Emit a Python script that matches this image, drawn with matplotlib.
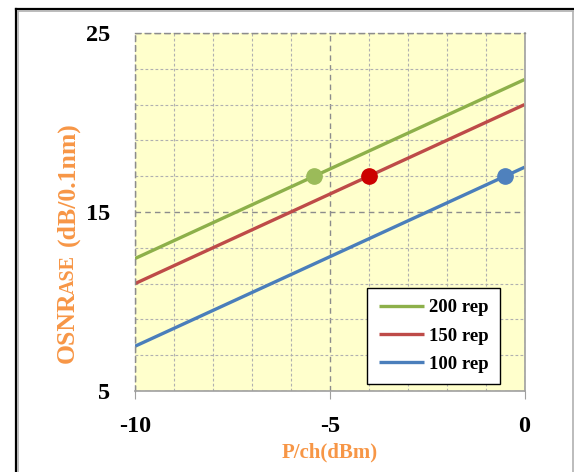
#OSNR vs launch power per channel, three repeater counts

import numpy as np
from matplotlib import pyplot as plt
from matplotlib.lines import Line2D
from matplotlib.font_manager import FontProperties

plt.rcParams['font.family'] = 'Liberation Serif'
plt.rcParams['font.weight'] = 'bold'
plt.rcParams['axes.unicode_minus'] = False

#data
power = [-10, 0]
osnr_200 = [12.4, 22.4]
osnr_150 = [11.0, 21.0]
osnr_100 = [7.5, 17.5]
labels = ['200 rep', '150 rep', '100 rep']
mark_x = [-5.4, -4.0, -0.5]
mark_y = [17, 17, 17]
x_ticks = [-10, -5, 0]
y_ticks = [5, 15, 25]

line_colors = ['#8DB04A', '#BE4B48', '#4A7EBB']
mark_colors = ['#9BBB59', '#CC0000', '#4F81BD']
orange = '#F79646'

W, H = 574, 472
fig = plt.figure(figsize=(W / 100, H / 100), dpi=100)
ax = fig.add_axes([135 / W, 1 - 391 / H, 389.5 / W, 358 / H])
ax.set_facecolor('#FFFFCC')

for ys, c, lab in zip([osnr_200, osnr_150, osnr_100], line_colors, labels):
    ax.plot(power, ys, color=c, lw=2.4, label=lab, solid_capstyle='butt')
for mx, my, c in zip(mark_x, mark_y, mark_colors):
    ax.plot(mx, my, 'o', color=c, ms=11, mec=c, zorder=4)

ax.set_xlim(-10, 0)
ax.set_ylim(5, 25)
ax.set_xticks(x_ticks)
ax.set_yticks(y_ticks)
ax.set_xticks(np.arange(-10, 1, 1), minor=True)
ax.set_yticks(np.arange(5, 26, 2), minor=True)

ax.grid(which='major', color='#8c8c8c', lw=1, ls=(0, (4, 3)))
ax.grid(which='minor', color='#b0b0b0', lw=0.8, ls=(0, (2.5, 2)))
ax.set_axisbelow(True)

for s in ['left', 'top']:
    ax.spines[s].set_color('#8c8c8c')
    ax.spines[s].set_linestyle((0, (4, 3)))
    ax.spines[s].set_linewidth(1)
for s in ['bottom', 'right']:
    ax.spines[s].set_color('#a0a0a0')
    ax.spines[s].set_linewidth(1.2)

ax.tick_params(axis='x', which='major', length=6, color='#a0a0a0',
               labelsize=17.5, pad=12)
ax.tick_params(axis='y', which='major', length=0, labelsize=17.5, pad=18)
ax.tick_params(which='minor', length=0)

ax.set_xlabel('P/ch(dBm)', color=orange, fontsize=15, fontweight='bold',
              labelpad=4)

leg = ax.legend(loc='lower right', bbox_to_anchor=(0.9376, 0.019),
                borderaxespad=0, fancybox=False, framealpha=1,
                edgecolor='black', prop={'size': 13.5, 'weight': 'bold'},
                handlelength=2.4, handletextpad=0.3, labelspacing=0.6,
                borderpad=0.6)
leg.get_frame().set_linewidth(1)

#y label: OSNR + small caps ASE + unit, laid out along the baseline
renderer = fig.canvas.get_renderer()
parts = [('OSNR', 18.5, 0), ('ASE', 14.5, -3), ('(dB/0.1nm)', 18.5, 9)]
x_base = 74 / W
y_cur = 363
for txt, size, gap in parts:
    y_cur -= gap
    fp = FontProperties(family='Liberation Serif', weight='bold', size=size)
    t = fig.text(x_base, 1 - y_cur / H, txt, rotation=90, rotation_mode='anchor',
                 ha='left', va='baseline', color=orange, fontproperties=fp)
    bb = t.get_window_extent(renderer)
    y_cur -= bb.height

#chart frame like the spreadsheet border
fig.add_artist(Line2D([15.5 / W, 1], [1 - 8.5 / H, 1 - 8.5 / H], color='black', lw=1.6))
fig.add_artist(Line2D([15.5 / W, 15.5 / W], [0, 1 - 8.5 / H], color='black', lw=1.6))
fig.add_artist(Line2D([18 / W, 572.5 / W], [1 - 10.5 / H, 1 - 10.5 / H], color='#b0b0b0', lw=1.2))
fig.add_artist(Line2D([18 / W, 18 / W], [0, 1 - 10.5 / H], color='#b0b0b0', lw=1.2))
fig.add_artist(Line2D([572.5 / W, 572.5 / W], [0, 1 - 10.5 / H], color='#b0b0b0', lw=1.2))

fig.savefig('out.png', dpi=100)
